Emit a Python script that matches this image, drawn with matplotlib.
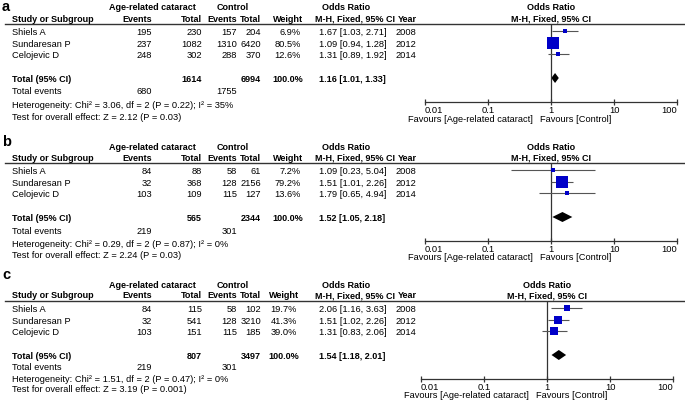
import matplotlib
matplotlib.use("Agg")
import matplotlib.pyplot as plt
from matplotlib.lines import Line2D
from matplotlib.patches import Polygon
from matplotlib.ticker import NullLocator

plt.rcParams['font.family'] = ['Liberation Sans', 'DejaVu Sans']

# ---------------- data ----------------
panel_labels = ["a", "b", "c"]
studies = ["Shiels A", "Sundaresan P", "Celojevic D"]
years = ["2008", "2012", "2014"]
case_events = [[195, 237, 248], [84, 32, 103], [84, 32, 103]]
case_total = [[230, 1082, 302], [88, 368, 109], [115, 541, 151]]
ctrl_events = [[157, 1310, 288], [58, 128, 115], [58, 128, 115]]
ctrl_total = [[204, 6420, 370], [61, 2156, 127], [102, 3210, 185]]
weights = [[6.9, 80.5, 12.6], [7.2, 79.2, 13.6], [19.7, 41.3, 39.0]]
or_est = [[1.67, 1.09, 1.31], [1.09, 1.51, 1.79], [2.06, 1.51, 1.31]]
or_lo = [[1.03, 0.94, 0.89], [0.23, 1.01, 0.65], [1.16, 1.02, 0.83]]
or_hi = [[2.71, 1.28, 1.92], [5.04, 2.26, 4.94], [3.63, 2.26, 2.06]]
sum_case_total = [1614, 565, 807]
sum_ctrl_total = [6994, 2344, 3497]
pooled_or = [1.16, 1.52, 1.54]
pooled_lo = [1.01, 1.05, 1.18]
pooled_hi = [1.33, 2.18, 2.01]
tot_case_events = [680, 219, 219]
tot_ctrl_events = [1755, 301, 301]
heterogeneity = ["Heterogeneity: Chi² = 3.06, df = 2 (P = 0.22); I² = 35%",
                 "Heterogeneity: Chi² = 0.29, df = 2 (P = 0.87); I² = 0%",
                 "Heterogeneity: Chi² = 1.51, df = 2 (P = 0.47); I² = 0%"]
overall = ["Test for overall effect: Z = 2.12 (P = 0.03)",
           "Test for overall effect: Z = 2.24 (P = 0.03)",
           "Test for overall effect: Z = 3.19 (P = 0.001)"]
xticks = [0.01, 0.1, 1, 10, 100]
xtick_labels = ["0.01", "0.1", "1", "10", "100"]

# ---------------- layout (pixels from top-left) ----------------
W, H = 685, 405
fig = plt.figure(figsize=(W / 100, H / 100), dpi=100)

def fx(x):
    return x / W

def fy(y):
    return 1 - y / H

FS = 6.7
FB = 6.5
LC = '#333333'
BLUE = '#0000C8'

base = dict(h1=8, h2=19, line=23.5, mrows=[31, 43, 54], mtot=78,
            tev=92, het=105, test=117, axy=102, fav=119)
offsets = [0, 139, 277]
label_top = [0, 135, 268]
plot_x = [(425, 677), (425, 677), (421, 673)]
weight_r = [301, 301, 297]
tev_c = [92, 92 + 139, 367]
het_c = [105, 105 + 139, 379]
test_c = [117, 117 + 139, 390]

def T(x, y, s, ha='left', bold=False, size=None, va='center'):
    if size is None:
        size = FB if bold else FS
    fig.text(fx(x), fy(y), s, ha=ha, va=va, fontsize=size,
             fontweight='bold' if bold else 'normal', color='black')

for p in range(3):
    o = offsets[p]
    x0, x1 = plot_x[p]
    xc = (x0 + x1) / 2
    wr = weight_r[p]
    h1, h2, line = base['h1'] + o, base['h2'] + o, base['line'] + o
    mrows = [r + o for r in base['mrows']]
    trows = [r + 1.5 for r in mrows]
    mtot = base['mtot'] + o
    axy = base['axy'] + o
    fav = base['fav'] + o

    T(2, label_top[p], panel_labels[p], bold=True, size=10.5, va='top')
    # header row 1
    T(152, h1, "Age-related cataract", ha='center', bold=True)
    T(233, h1, "Control", ha='center', bold=True)
    T(322, h1, "Odds Ratio", bold=True)
    T(xc, h1, "Odds Ratio", ha='center', bold=True)
    # header row 2
    T(12, h2, "Study or Subgroup", bold=True)
    T(152, h2, "Events", ha='right', bold=True)
    T(202, h2, "Total", ha='right', bold=True)
    T(237, h2, "Events", ha='right', bold=True)
    T(261, h2, "Total", ha='right', bold=True)
    T(wr + 2, h2, "Weight", ha='right', bold=True)
    T(315, h2, "M-H, Fixed, 95% CI", bold=True)
    T(397.5, h2, "Year", bold=True)
    T(xc, h2, "M-H, Fixed, 95% CI", ha='center', bold=True)
    fig.add_artist(Line2D([fx(5), fx(685)], [fy(line)] * 2, color=LC, lw=1.0))

    # study rows
    for i, y in enumerate(trows):
        T(12, y, studies[i])
        T(152, y, str(case_events[p][i]), ha='right')
        T(202, y, str(case_total[p][i]), ha='right')
        T(237, y, str(ctrl_events[p][i]), ha='right')
        T(261, y, str(ctrl_total[p][i]), ha='right')
        T(wr, y, f"{weights[p][i]:.1f}%", ha='right')
        T(319, y, f"{or_est[p][i]:.2f} [{or_lo[p][i]:.2f}, {or_hi[p][i]:.2f}]")
        T(396, y, years[i])
    # total rows
    ty = mtot + 1.5
    T(12, ty, "Total (95% CI)", bold=True)
    T(202, ty, str(sum_case_total[p]), ha='right', bold=True)
    T(261, ty, str(sum_ctrl_total[p]), ha='right', bold=True)
    T(wr + 2, ty, "100.0%", ha='right', bold=True)
    T(319, ty, f"{pooled_or[p]:.2f} [{pooled_lo[p]:.2f}, {pooled_hi[p]:.2f}]", bold=True)
    T(12, tev_c[p], "Total events")
    T(152, tev_c[p], str(tot_case_events[p]), ha='right')
    T(237, tev_c[p], str(tot_ctrl_events[p]), ha='right')
    T(12, het_c[p], heterogeneity[p])
    T(12, test_c[p], overall[p])

    # forest plot axes
    ax = fig.add_axes([fx(x0), fy(axy), fx(x1) - fx(x0), fy(line) - fy(axy)])
    ax.set_xscale('log')
    ax.set_xlim(xticks[0], xticks[-1])
    ax.set_ylim(axy, line)
    ax.patch.set_alpha(0)
    for s in ['top', 'right', 'left']:
        ax.spines[s].set_visible(False)
    ax.spines['bottom'].set_color(LC)
    ax.spines['bottom'].set_linewidth(0.9)
    ax.set_yticks([])
    ax.set_xticks(xticks)
    ax.set_xticklabels(xtick_labels)
    ax.xaxis.set_minor_locator(NullLocator())
    ax.tick_params(axis='x', direction='inout', length=4, width=0.9, color=LC,
                   labelsize=FS, pad=1)
    tl = ax.get_xticklabels()
    tl[0].set_ha('left')
    tl[-1].set_ha('right')
    ax.axvline(1, color=LC, lw=0.9)

    for i, y in enumerate(mrows):
        ax.hlines(y, or_lo[p][i], or_hi[p][i], color='#555555', lw=0.8)
        side_px = 11.5 * (weights[p][i] / 80.5) ** 0.5
        ax.plot(or_est[p][i], y, marker='s', markersize=side_px * 0.72,
                color=BLUE, markeredgewidth=0, linestyle='none')
    hh = 5
    ax.add_patch(Polygon([(pooled_lo[p], mtot), (pooled_or[p], mtot - hh),
                          (pooled_hi[p], mtot), (pooled_or[p], mtot + hh)],
                         closed=True, color='black', lw=0))

    # favours labels
    xm = (x0 + x1) / 2
    T(xm - 18, fav, "Favours [Age-related cataract]", ha='right')
    T(xm - 11, fav, "Favours [Control]", ha='left')

fig.savefig("out.png", dpi=100)
